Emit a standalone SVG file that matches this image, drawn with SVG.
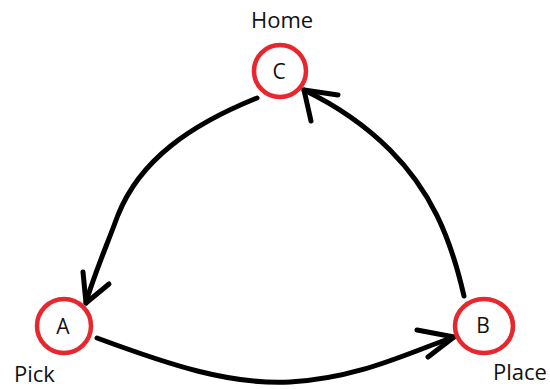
<svg xmlns="http://www.w3.org/2000/svg" width="550" height="389" viewBox="0 0 550 389">
  <style>
    .node { fill: #ffffff; stroke: #e8262d; stroke-width: 4.5; }
    .lbl { font-family: "Open Sans", "Liberation Sans", sans-serif; font-size: 21px; fill: #111111; text-anchor: middle; dominant-baseline: central; }
    .cap { font-family: "Open Sans", "Liberation Sans", sans-serif; font-size: 22px; fill: #111111; }
    .edge { fill: none; stroke: #000000; stroke-width: 5; stroke-linecap: round; stroke-linejoin: round; }
  </style>
  <rect width="550" height="389" fill="#ffffff"/>

  <g id="connectors">
    <!-- C to A -->
    <path class="edge" d="M257,98 C190,125 140,160 118,215 C105,250 92,280 86,303"/>
    <path class="edge" d="M83,272 L86,303 L109,284"/>
    <!-- A to B -->
    <path class="edge" d="M97,338 C170,365 230,385 290,382 C360,378 410,352 454,337"/>
    <path class="edge" d="M417,330 L454,337 L428,357"/>
    <!-- B to C -->
    <path class="edge" d="M464,296 C450,235 430,190 390,150 C365,125 335,105 304,90"/>
    <path class="edge" d="M338,95 L304,90 L311,121"/>
  </g>

  <g id="node-C">
    <circle class="node" cx="280" cy="71" r="26"/>
    <text class="lbl" x="279" y="71">C</text>
    <text class="cap" x="251" y="28">Home</text>
  </g>

  <g id="node-A">
    <circle class="node" cx="64" cy="326" r="27"/>
    <text class="lbl" x="63" y="326">A</text>
    <text class="cap" x="14" y="382">Pick</text>
  </g>

  <g id="node-B">
    <ellipse class="node" cx="484" cy="326" rx="29" ry="27"/>
    <text class="lbl" x="483" y="325">B</text>
    <text class="cap" x="493" y="380">Place</text>
  </g>
</svg>
